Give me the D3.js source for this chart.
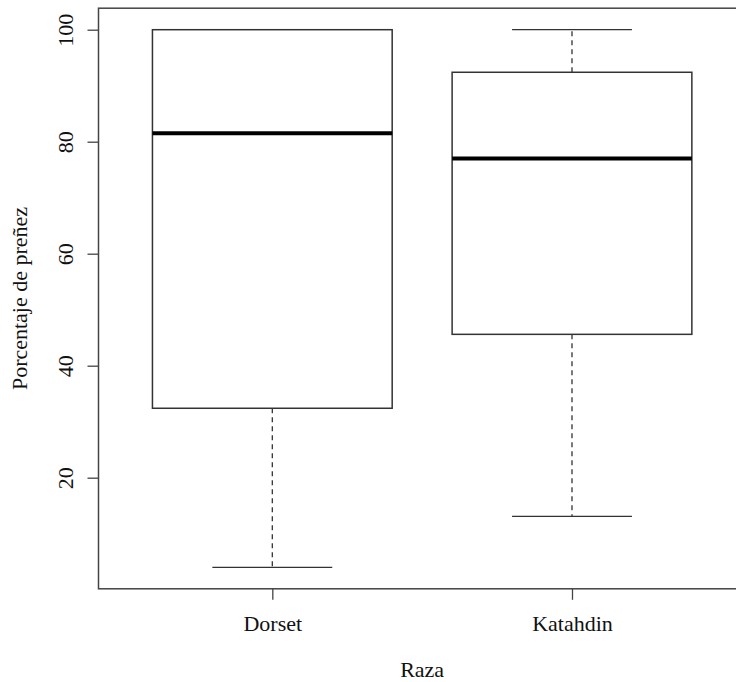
<!DOCTYPE html>
<html>
<head>
<meta charset="utf-8">
<script src="https://cdn.jsdelivr.net/npm/d3@7"></script>
<style>
  body { margin: 0; background: #fff; }
  svg { display: block; }
  svg text { font-family: "Liberation Serif", "Times New Roman", "DejaVu Serif", serif !important; fill: #111; }
</style>
</head>
<body>
<div id="chart-area"></div>
<script>
// data
var breeds = ["Dorset", "Katahdin"];
var whiskerLow = [4, 13.1];
var q1 = [32.4, 45.6];
var medians = [81.5, 77.0];
var q3 = [100, 92.4];
var whiskerHigh = [100, 100];
var yTicks = [20, 40, 60, 80, 100];

var width = 736, height = 682;

var svg = d3.select("#chart-area")
  .append("svg")
  .attr("width", width)
  .attr("height", height)
  .attr("font-family", "Liberation Serif, serif");

// R style limits: 0.5..n+0.5 widened by 4%
var x = d3.scaleLinear()
  .domain([0.42, 2.58])
  .range([98.5, 745.8]);

var y = d3.scaleLinear()
  .domain([0.16, 103.84])
  .range([588.8, 8.2]);

var boxes = breeds.map(function(b, i) {
  return {
    name: b, pos: i + 1,
    lo: whiskerLow[i], q1: q1[i], med: medians[i], q3: q3[i], hi: whiskerHigh[i]
  };
});

var g = svg.append("g");

// whiskers
g.selectAll(".whisker-lo")
  .data(boxes)
  .enter()
  .append("line")
  .attr("x1", function(d) { return x(d.pos); })
  .attr("x2", function(d) { return x(d.pos); })
  .attr("y1", function(d) { return y(d.q1); })
  .attr("y2", function(d) { return y(d.lo); })
  .attr("stroke", "#333")
  .attr("stroke-width", 1.3)
  .attr("stroke-dasharray", "5,4");

g.selectAll(".whisker-hi")
  .data(boxes.filter(function(d) { return d.hi > d.q3; }))
  .enter()
  .append("line")
  .attr("x1", function(d) { return x(d.pos); })
  .attr("x2", function(d) { return x(d.pos); })
  .attr("y1", function(d) { return y(d.q3); })
  .attr("y2", function(d) { return y(d.hi); })
  .attr("stroke", "#333")
  .attr("stroke-width", 1.3)
  .attr("stroke-dasharray", "5,4");

// staples
["lo", "hi"].forEach(function(k) {
  g.selectAll(".staple-" + k)
    .data(boxes)
    .enter()
    .append("line")
    .attr("x1", function(d) { return x(d.pos - 0.2); })
    .attr("x2", function(d) { return x(d.pos + 0.2); })
    .attr("y1", function(d) { return y(d[k]); })
    .attr("y2", function(d) { return y(d[k]); })
    .attr("stroke", "#333")
    .attr("stroke-width", 1.3);
});

// boxes
g.selectAll("rect")
  .data(boxes)
  .enter()
  .append("rect")
  .attr("x", function(d) { return x(d.pos - 0.4); })
  .attr("width", function(d) { return x(d.pos + 0.4) - x(d.pos - 0.4); })
  .attr("y", function(d) { return y(d.q3); })
  .attr("height", function(d) { return y(d.q1) - y(d.q3); })
  .attr("fill", "#fff")
  .attr("stroke", "#333")
  .attr("stroke-width", 1.5);

// medians
g.selectAll(".median")
  .data(boxes)
  .enter()
  .append("line")
  .attr("x1", function(d) { return x(d.pos - 0.4); })
  .attr("x2", function(d) { return x(d.pos + 0.4); })
  .attr("y1", function(d) { return y(d.med); })
  .attr("y2", function(d) { return y(d.med); })
  .attr("stroke", "#000")
  .attr("stroke-width", 4);

// plot frame
svg.append("rect")
  .attr("x", x(0.42))
  .attr("y", y(103.84))
  .attr("width", x(2.58) - x(0.42))
  .attr("height", y(0.16) - y(103.84))
  .attr("fill", "none")
  .attr("stroke", "#444")
  .attr("stroke-width", 1.5);

// y axis
var yAxis = svg.append("g")
  .attr("transform", "translate(" + x(0.42) + ",0)")
  .call(d3.axisLeft(y).tickValues(yTicks).tickSize(11).tickPadding(0));
yAxis.attr("font-family", null);
yAxis.select(".domain").remove();
yAxis.selectAll(".tick line").attr("stroke", "#444").attr("stroke-width", 1.3);
yAxis.selectAll(".tick text")
  .attr("transform", "translate(-26,0) rotate(-90)")
  .attr("x", 0).attr("y", 0).attr("dy", 0)
  .attr("text-anchor", "middle")
  .style("font-size", "22px");

// x axis
var xAxis = svg.append("g")
  .attr("transform", "translate(0," + y(0.16) + ")")
  .call(d3.axisBottom(x).tickValues([1, 2]).tickSize(11)
    .tickFormat(function(d) { return breeds[d - 1]; }));
xAxis.attr("font-family", null);
xAxis.select(".domain").remove();
xAxis.selectAll(".tick line").attr("stroke", "#444").attr("stroke-width", 1.3);
xAxis.selectAll(".tick text")
  .attr("y", 42).attr("dy", 0)
  .style("font-size", "22px");

// axis titles
svg.append("text")
  .attr("x", (x(0.42) + x(2.58)) / 2)
  .attr("y", 677)
  .attr("text-anchor", "middle")
  .style("font-size", "22px")
  .text("Raza");

svg.append("text")
  .attr("transform", "translate(27," + (y(0.16) + y(103.84)) / 2 + ") rotate(-90)")
  .attr("text-anchor", "middle")
  .style("font-size", "22px")
  .text("Porcentaje de preñez");
</script>
</body>
</html>
